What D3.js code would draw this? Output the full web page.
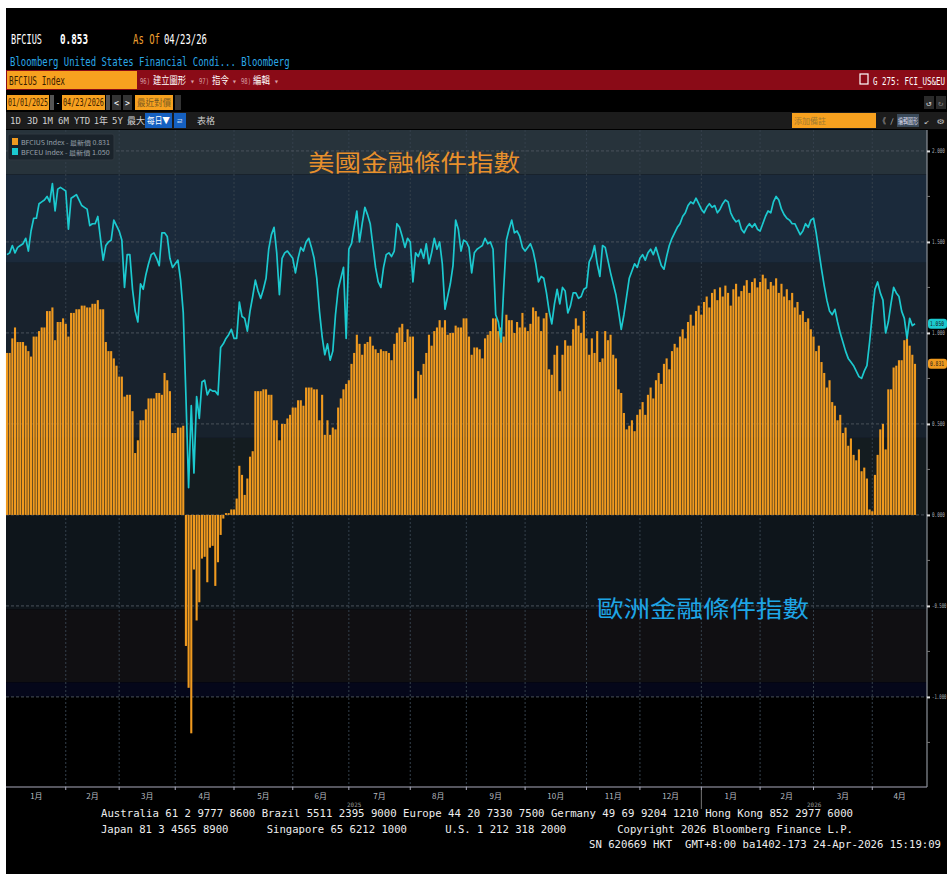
<!DOCTYPE html>
<html>
<head>
<meta charset="utf-8">
<script src="https://cdn.jsdelivr.net/npm/d3@7"></script>
<style>
body { margin: 0; background: #fff; }
svg { display: block; }
text { font-family: "DejaVu Sans Mono", monospace; }
.cjk { font-family: "Noto Sans CJK TC", "Noto Sans CJK SC", sans-serif; }
</style>
</head>
<body>
<svg id="chart" width="947" height="874"></svg>
<script>
// business days 2025-01-02 .. 2026-04-23
var startDay = [2025, 0, 2];
var endDay = [2026, 3, 23];

// BFCIUS (bars), one value per business day, month by month
var usIndex = [
  0.89,0.89,0.97,1.03,0.95,0.95,0.95,0.93,0.90,0.87,0.98,0.98,1.01,1.03,1.03,1.12,1.12,1.14,0.96,1.06,1.06,1.08,
  1.05,0.98,1.11,1.11,1.13,1.13,1.15,1.15,1.14,1.14,1.16,1.16,1.18,1.13,1.13,0.95,0.90,0.90,0.86,0.82,
  0.76,0.76,0.65,0.66,0.66,0.57,0.34,0.41,0.52,0.52,0.58,0.64,0.64,0.64,0.67,0.67,0.66,0.78,0.74,0.68,0.45,
  0.45,0.48,0.48,0.49,-0.72,-0.95,-1.20,-0.30,-0.58,-0.48,-0.24,-0.23,-0.37,-0.18,-0.17,-0.39,-0.26,-0.11,-0.02,0.01,0.01,0.03,
  0.03,0.09,0.27,0.22,0.11,0.20,0.32,0.35,0.68,0.68,0.68,0.69,0.69,0.66,0.66,0.52,0.52,0.41,0.50,0.50,0.53,0.55,
  0.59,0.59,0.63,0.63,0.60,0.70,0.70,0.70,0.69,0.69,0.52,0.66,0.44,0.52,0.44,0.48,0.47,0.59,0.64,0.69,0.72,
  0.74,0.83,0.89,0.99,0.94,0.88,0.94,0.95,0.98,0.93,0.91,0.89,0.91,0.90,0.90,0.89,0.85,0.94,1.00,1.03,1.05,0.95,1.02,
  0.98,0.98,0.64,0.79,0.77,0.83,0.89,0.99,0.93,1.01,1.03,1.07,1.03,1.07,0.99,1.00,1.00,1.04,1.03,1.03,1.08,
  1.08,0.98,0.88,0.92,0.92,0.91,0.86,0.97,0.99,1.01,1.08,1.08,1.01,1.03,0.98,1.10,1.07,1.07,1.00,1.06,1.03,1.11,
  1.03,1.01,1.05,1.14,1.12,1.09,1.01,1.08,1.11,0.80,0.77,0.88,0.93,0.68,0.88,0.96,0.93,0.93,1.02,1.08,1.04,1.00,1.12,
  0.97,0.88,0.97,0.89,1.01,0.84,0.86,1.01,0.96,0.99,0.88,0.86,0.69,0.67,0.56,0.47,0.49,0.52,0.46,0.55,
  0.58,0.62,0.55,0.66,0.70,0.64,0.74,0.78,0.72,0.83,0.86,0.80,0.90,0.94,0.92,0.98,1.02,0.97,1.06,1.10,1.04,1.12,1.15,
  1.10,1.17,1.20,1.14,1.22,1.24,1.18,1.25,1.20,1.26,1.22,1.15,1.24,1.27,1.20,1.23,1.26,1.29,1.22,1.28,1.30,1.25,
  1.28,1.32,1.30,1.24,1.28,1.26,1.30,1.22,1.27,1.20,1.24,1.18,1.22,1.14,1.17,1.10,1.12,1.06,1.08,1.02,
  0.98,0.90,0.93,0.84,0.78,0.70,0.74,0.62,0.60,0.52,0.55,0.45,0.48,0.38,0.42,0.33,0.30,0.36,0.24,0.26,0.20,0.03,
  0.02,0.22,0.33,0.47,0.50,0.36,0.69,0.69,0.81,0.82,0.85,0.85,0.96,0.97,0.93,0.88,0.83
];

// BFCEU (line)
var euIndex = [
  1.43,1.44,1.48,1.44,1.47,1.48,1.49,1.52,1.45,1.56,1.63,1.63,1.71,1.72,1.73,1.75,1.72,1.82,1.67,1.79,1.80,1.79,
  1.78,1.57,1.74,1.75,1.76,1.73,1.70,1.69,1.68,1.59,1.60,1.60,1.64,1.52,1.40,1.48,1.50,1.51,1.62,1.59,
  1.56,1.51,1.25,1.43,1.43,1.24,1.12,1.06,1.27,1.24,1.32,1.38,1.43,1.44,1.41,1.37,1.55,1.55,1.53,1.41,1.36,
  1.38,1.40,1.29,1.11,0.65,0.15,0.60,0.23,0.65,0.53,0.73,0.74,0.66,0.69,0.68,0.68,0.66,0.92,0.94,0.97,0.99,1.02,
  0.97,0.97,1.17,1.09,1.08,1.01,1.12,1.20,1.29,1.23,1.19,1.24,1.30,1.46,1.54,1.58,1.44,1.21,1.41,1.44,1.45,1.43,
  1.41,1.33,1.41,1.47,1.45,1.50,1.52,1.47,1.41,1.30,1.12,0.98,0.88,0.94,0.85,0.90,1.10,1.24,1.30,1.36,0.97,
  1.46,1.49,1.58,1.67,1.50,1.60,1.69,1.65,1.60,1.48,1.36,1.28,1.25,1.36,1.43,1.44,1.42,1.45,1.60,1.58,1.53,1.47,1.52,
  1.50,1.28,1.44,1.42,1.46,1.41,1.49,1.38,1.44,1.52,1.46,1.50,1.38,1.13,1.20,1.27,1.37,1.62,1.57,1.45,1.51,
  1.50,1.47,1.33,1.44,1.46,1.47,1.48,1.52,1.49,1.50,1.46,1.10,1.06,0.95,1.25,1.51,1.57,1.62,1.55,1.56,1.53,1.47,
  1.45,1.47,1.49,1.45,1.38,1.28,1.31,1.30,1.22,1.12,1.05,1.16,1.24,1.16,1.25,1.23,1.11,1.15,1.22,1.22,1.19,1.20,1.24,
  1.25,1.39,1.42,1.48,1.38,1.31,1.48,1.47,1.40,1.33,1.27,1.21,1.12,1.02,1.10,1.20,1.30,1.34,1.38,1.36,
  1.41,1.43,1.40,1.44,1.46,1.43,1.47,1.42,1.37,1.35,1.42,1.48,1.52,1.55,1.58,1.60,1.64,1.66,1.70,1.72,1.71,1.74,1.71,
  1.68,1.66,1.69,1.71,1.69,1.70,1.66,1.68,1.71,1.73,1.72,1.66,1.63,1.61,1.62,1.57,1.55,1.58,1.60,1.58,1.60,1.57,
  1.56,1.60,1.64,1.67,1.66,1.72,1.75,1.73,1.68,1.65,1.63,1.62,1.60,1.60,1.57,1.54,1.56,1.60,1.58,1.62,
  1.63,1.55,1.45,1.35,1.26,1.18,1.12,1.10,1.13,1.06,1.00,0.95,0.90,0.86,0.84,0.82,0.79,0.76,0.75,0.79,0.82,0.95,
  1.10,1.24,1.28,1.22,1.18,1.00,1.06,1.16,1.25,1.22,1.20,1.12,1.08,0.97,1.08,1.04,1.05
];

var monthLabels = ['1月','2月','3月','4月','5月','6月','7月','8月','9月','10月','11月','12月','1月','2月','3月','4月'];
var yearLabels = ['2025', '2026'];
var yTicks = [2, 1.5, 1, 0.5, 0, -0.5, -1];
var yTickLabels = ['2.000', '1.500', '1.000', '0.500', '0.000', '-0.500', '-1.000'];
var lastUS = '0.831', lastEU = '1.050', headValue = '0.853';

var svg = d3.select('#chart');

var days = d3.utcDays(new Date(Date.UTC(startDay[0], startDay[1], startDay[2])),
                      new Date(Date.UTC(endDay[0], endDay[1], endDay[2] + 1)))
  .filter(function(d) { return d.getUTCDay() !== 0 && d.getUTCDay() !== 6; });
var n = Math.min(days.length, usIndex.length, euIndex.length);

var plot = { left: 6, right: 927, top: 130, bottom: 787 };

var x = d3.scaleLinear().domain([0, 340]).range([7, 915]);
var y = d3.scaleLinear().domain([-1.495, 2.115]).range([plot.bottom, plot.top]);

// page frame
svg.append('rect').attr('x', 6).attr('y', 8).attr('width', 941).attr('height', 866).attr('fill', '#000');

// text helper: squeeze to a given width with a horizontal scale
function txt(xp, yp, s, opts) {
  var t = svg.append('text').text(s)
    .attr('font-size', opts.size || 12).attr('fill', opts.fill || '#fff');
  if (opts.weight) t.attr('font-weight', opts.weight);
  if (opts.cls) t.attr('class', opts.cls);
  if (opts.anchor) t.attr('text-anchor', opts.anchor);
  if (opts.len) {
    var w = t.node().getComputedTextLength();
    var sx = w > 0 ? opts.len / w : 1;
    t.attr('transform', 'translate(' + xp + ',' + yp + ') scale(' + sx + ',1)');
  } else {
    t.attr('x', xp).attr('y', yp);
  }
  return t;
}

// ---------- header ----------
txt(11, 44, 'BFCIUS', { size: 14, len: 31 });
txt(60, 44, headValue, { size: 14, len: 28, weight: 'bold' });
txt(133, 44, 'As Of', { size: 14, len: 27, fill: '#f0a030' });
txt(164, 44, '04/23/26', { size: 14, len: 43 });
txt(10, 66, 'Bloomberg United States Financial Condi... Bloomberg', { size: 13, len: 280, fill: '#2aa8e8' });

svg.append('rect').attr('x', 6).attr('y', 70).attr('width', 941).attr('height', 20).attr('fill', '#8a0b17');
svg.append('rect').attr('x', 7).attr('y', 71).attr('width', 130).attr('height', 18).attr('fill', '#f7a11f');
txt(9, 85, 'BFCIUS Index', { size: 12, len: 56, fill: '#3a2000' });
txt(140, 84, '96)', { size: 8, len: 10, fill: '#d9a0a6' });
txt(153, 84, '建立圖形', { size: 10, cls: 'cjk', len: 33 });
txt(190, 84, '▾', { size: 8, fill: '#d9a0a6' });
txt(199, 84, '97)', { size: 8, len: 10, fill: '#d9a0a6' });
txt(212, 84, '指令', { size: 10, cls: 'cjk', len: 17 });
txt(232, 84, '▾', { size: 8, fill: '#d9a0a6' });
txt(241, 84, '98)', { size: 8, len: 10, fill: '#d9a0a6' });
txt(253, 84, '編輯', { size: 10, cls: 'cjk', len: 17 });
txt(274, 84, '▾', { size: 8, fill: '#d9a0a6' });
svg.append('rect').attr('x', 860).attr('y', 74).attr('width', 8).attr('height', 10)
  .attr('fill', 'none').attr('stroke', '#fff').attr('stroke-width', 1.2);
txt(873, 85, 'G 275: FCI_US&EU', { size: 10, len: 72 });

// date row
svg.append('rect').attr('x', 7).attr('y', 95).attr('width', 42).attr('height', 15).attr('fill', '#f7a11f');
txt(8, 106, '01/01/2025', { size: 10, len: 40, fill: '#3a2000' });
svg.append('rect').attr('x', 50).attr('y', 95).attr('width', 4).attr('height', 15).attr('fill', '#555');
txt(56, 106, '-', { size: 9, len: 4 });
svg.append('rect').attr('x', 62).attr('y', 95).attr('width', 43).attr('height', 15).attr('fill', '#f7a11f');
txt(63, 106, '04/23/2026', { size: 10, len: 41, fill: '#3a2000' });
svg.append('rect').attr('x', 106).attr('y', 95).attr('width', 4).attr('height', 15).attr('fill', '#555');
svg.append('rect').attr('x', 112).attr('y', 95).attr('width', 9).attr('height', 15).attr('fill', '#333');
svg.append('rect').attr('x', 123).attr('y', 95).attr('width', 9).attr('height', 15).attr('fill', '#333');
txt(114, 106, '<', { size: 9, len: 5 });
txt(125, 106, '>', { size: 9, len: 5 });
svg.append('rect').attr('x', 135).attr('y', 95).attr('width', 38).attr('height', 15).attr('fill', '#f7a11f');
txt(137, 106, '最近對價', { size: 9, cls: 'cjk', len: 34, fill: '#7a5a20' });
svg.append('rect').attr('x', 175).attr('y', 95).attr('width', 6).attr('height', 15).attr('fill', '#333');
svg.append('rect').attr('x', 924).attr('y', 96).attr('width', 10).attr('height', 13).attr('fill', '#2a2a2a');
svg.append('rect').attr('x', 936).attr('y', 96).attr('width', 10).attr('height', 13).attr('fill', '#2a2a2a');
txt(926, 106, '↺', { size: 8, len: 6, fill: '#ccc' });
txt(938, 106, '↻', { size: 8, len: 6, fill: '#777' });

// toolbar row
svg.append('rect').attr('x', 6).attr('y', 112).attr('width', 941).attr('height', 17).attr('fill', '#1c1c1c');
var tools = [['1D', 10], ['3D', 27], ['1M', 42], ['6M', 58], ['YTD', 74], ['1年', 94], ['5Y', 112], ['最大', 127]];
tools.forEach(function(t) {
  txt(t[1], 124, t[0], { size: 9, fill: '#cfcfcf', cls: /[年大]/.test(t[0]) ? 'cjk' : null });
});
svg.append('rect').attr('x', 145).attr('y', 113).attr('width', 27).attr('height', 15).attr('fill', '#1560c0');
txt(147, 124, '每日▼', { size: 9, cls: 'cjk', len: 23 });
svg.append('rect').attr('x', 174).attr('y', 113).attr('width', 12).attr('height', 15).attr('fill', '#1560c0');
txt(176, 124, 'ㄹ', { size: 8, cls: 'cjk', fill: '#cde' });
txt(197, 124, '表格', { size: 9, cls: 'cjk', fill: '#cfcfcf' });
svg.append('rect').attr('x', 792).attr('y', 113).attr('width', 84).attr('height', 15).attr('fill', '#f7a11f');
txt(794, 124, '添加備註', { size: 8, cls: 'cjk', fill: '#a07a30' });
txt(879, 124, '《', { size: 8, cls: 'cjk', len: 7, fill: '#bbb' });
txt(890, 124, '/', { size: 8, len: 4, fill: '#bbb' });
svg.append('rect').attr('x', 897).attr('y', 114).attr('width', 22).attr('height', 13).attr('fill', '#3a4a5a');
txt(898, 124, '編輯圖形', { size: 8, cls: 'cjk', len: 20, fill: '#dde' });
txt(924, 124, '↙', { size: 8, len: 6, fill: '#bbb' });
txt(937, 124, '⚙', { size: 8, len: 7, fill: '#bbb' });

// ---------- plot background bands ----------
var bands = [
  [2.115, 1.87, '#27333b'],
  [1.87, 1.385, '#1b2a3b'],
  [1.385, 0.423, '#18222d'],
  [0.423, 0, '#141c20'],
  [0, -0.52, '#0e151b'],
  [-0.52, -0.92, '#100f12'],
  [-0.92, -1.0, '#05071a'],
  [-1.0, -1.495, '#000']
];
svg.append('g').selectAll('rect').data(bands).enter().append('rect')
  .attr('x', plot.left).attr('width', plot.right - plot.left)
  .attr('y', function(d) { return y(d[0]); })
  .attr('height', function(d) { return y(d[1]) - y(d[0]); })
  .attr('fill', function(d) { return d[2]; });

// month starts
var monthStarts = [];
days.forEach(function(d, i) {
  if (i === 0 || d.getUTCMonth() !== days[i - 1].getUTCMonth()) monthStarts.push(i);
});

// grid
var grid = svg.append('g');
grid.selectAll('.vg').data(monthStarts.slice(1)).enter().append('line')
  .attr('x1', function(i) { return x(i); }).attr('x2', function(i) { return x(i); })
  .attr('y1', plot.top).attr('y2', plot.bottom)
  .attr('stroke', '#34404c').attr('stroke-width', 1).attr('stroke-dasharray', '2,2');
grid.selectAll('.hg').data(yTicks).enter().append('line')
  .attr('x1', plot.left).attr('x2', plot.right)
  .attr('y1', function(d) { return y(d); }).attr('y2', function(d) { return y(d); })
  .attr('stroke', '#4a525a').attr('stroke-width', 1).attr('stroke-dasharray', '3,2');

// ---------- bars ----------
var barW = 2.1;
svg.append('g').selectAll('rect').data(usIndex.slice(0, n)).enter().append('rect')
  .attr('x', function(d, i) { return x(i) - barW / 2; })
  .attr('width', barW)
  .attr('y', function(d) { return y(Math.max(0, d)); })
  .attr('height', function(d) { return Math.abs(y(d) - y(0)); })
  .attr('fill', '#f09a1f');

// ---------- line ----------
var line = d3.line()
  .x(function(d, i) { return x(i); })
  .y(function(d) { return y(d); });
svg.append('path').datum(euIndex.slice(0, n))
  .attr('d', line).attr('fill', 'none')
  .attr('stroke', '#1cc9cf').attr('stroke-width', 1.7).attr('stroke-linejoin', 'round');

// ---------- axes ----------
svg.append('line').attr('x1', plot.left).attr('x2', plot.right)
  .attr('y1', plot.bottom).attr('y2', plot.bottom).attr('stroke', '#aab').attr('stroke-width', 1.2);
svg.append('line').attr('x1', plot.right).attr('x2', plot.right)
  .attr('y1', plot.top).attr('y2', plot.bottom).attr('stroke', '#8a9098').attr('stroke-width', 1.2);

var yAxis = d3.axisRight(y).tickValues(yTicks).tickSize(3).tickFormat('');
var ya = svg.append('g').attr('transform', 'translate(' + plot.right + ',0)').call(yAxis);
ya.select('.domain').remove();
ya.selectAll('line').attr('stroke', '#ddd').attr('stroke-width', 2);
yTicks.forEach(function(v, i) {
  txt(plot.right + 5, y(v) + 2.3, yTickLabels[i], { size: 6.5, len: v < 0 ? 14.5 : 13, fill: '#a8aeb4' });
});
var minor = d3.range(-1.25, 2.1, 0.5);
svg.append('g').selectAll('line').data(minor).enter().append('line')
  .attr('x1', plot.right).attr('x2', plot.right + 3)
  .attr('y1', function(d) { return y(d); }).attr('y2', function(d) { return y(d); })
  .attr('stroke', '#777');

// month ticks and labels
var xa = svg.append('g');
xa.selectAll('line').data(monthStarts.slice(1)).enter().append('line')
  .attr('x1', function(i) { return x(i); }).attr('x2', function(i) { return x(i); })
  .attr('y1', plot.bottom).attr('y2', plot.bottom + 3).attr('stroke', '#aab');
xa.selectAll('text').data(monthStarts).enter().append('text')
  .attr('x', function(s, k) {
    var e = k + 1 < monthStarts.length ? x(monthStarts[k + 1]) : plot.right;
    return (x(s) + e) / 2;
  })
  .attr('y', plot.bottom + 12).attr('text-anchor', 'middle')
  .attr('font-size', 8).attr('fill', '#b8bcc0').attr('class', 'cjk')
  .text(function(s, k) { return monthLabels[k]; });

var yearStart = monthStarts[12];
svg.append('line').attr('x1', x(yearStart)).attr('x2', x(yearStart))
  .attr('y1', plot.bottom + 3).attr('y2', plot.bottom + 22).attr('stroke', '#777');
txt((x(0) + x(yearStart)) / 2, plot.bottom + 20, yearLabels[0], { size: 6, fill: '#999', anchor: 'middle' });
txt((x(yearStart) + plot.right) / 2, plot.bottom + 20, yearLabels[1], { size: 6, fill: '#999', anchor: 'middle' });

// last value tags
function tag(v, label, bg) {
  svg.append('rect').attr('x', plot.right + 1).attr('y', y(v) - 5).attr('width', 19).attr('height', 10)
    .attr('rx', 3).attr('fill', bg);
  txt(plot.right + 3, y(v) + 2.5, label, { size: 6.5, len: 14, fill: '#1a1a1a' });
}
tag(+lastEU, lastEU, '#1cc9cf');
tag(+lastUS, lastUS, '#f09a1f');

// legend
svg.append('rect').attr('x', 8).attr('y', 134).attr('width', 106).attr('height', 26)
  .attr('rx', 2).attr('fill', '#1a232b').attr('stroke', '#2e3840');
svg.append('rect').attr('x', 12).attr('y', 138).attr('width', 6).attr('height', 7).attr('fill', '#f09a1f');
svg.append('rect').attr('x', 12).attr('y', 148).attr('width', 6).attr('height', 7).attr('fill', '#1cc9cf');
txt(21, 144.5, 'BFCIUS Index - 最新價 ' + lastUS, { size: 6, fill: '#9aa4ad', cls: 'cjk', len: 89 });
txt(21, 154.5, 'BFCEU Index - 最新價 ' + lastEU, { size: 6, fill: '#9aa4ad', cls: 'cjk', len: 89 });

// titles
txt(308, 171, '美國金融條件指數', { size: 23, fill: '#e8902c', cls: 'cjk', len: 212 });
txt(597, 617, '歐洲金融條件指數', { size: 23, fill: '#1ea5e6', cls: 'cjk', len: 212 });

// footer
var footer = svg.append('g').attr('xml:space', 'preserve');
footer.append('text').attr('x', 101).attr('y', 817).attr('font-size', 10.5).attr('fill', '#eee')
  .attr('textLength', 752).attr('lengthAdjust', 'spacingAndGlyphs')
  .text('Australia 61 2 9777 8600 Brazil 5511 2395 9000 Europe 44 20 7330 7500 Germany 49 69 9204 1210 Hong Kong 852 2977 6000');
footer.append('text').attr('x', 101).attr('y', 833).attr('font-size', 10.5).attr('fill', '#eee')
  .attr('textLength', 752).attr('lengthAdjust', 'spacingAndGlyphs')
  .style('white-space', 'pre')
  .text('Japan 81 3 4565 8900      Singapore 65 6212 1000      U.S. 1 212 318 2000        Copyright 2026 Bloomberg Finance L.P.');
footer.append('text').attr('x', 589).attr('y', 848).attr('font-size', 10.5).attr('fill', '#eee')
  .attr('textLength', 352).attr('lengthAdjust', 'spacingAndGlyphs')
  .style('white-space', 'pre')
  .text('SN 620669 HKT  GMT+8:00 ba1402-173 24-Apr-2026 15:19:09');
</script>
</body>
</html>
